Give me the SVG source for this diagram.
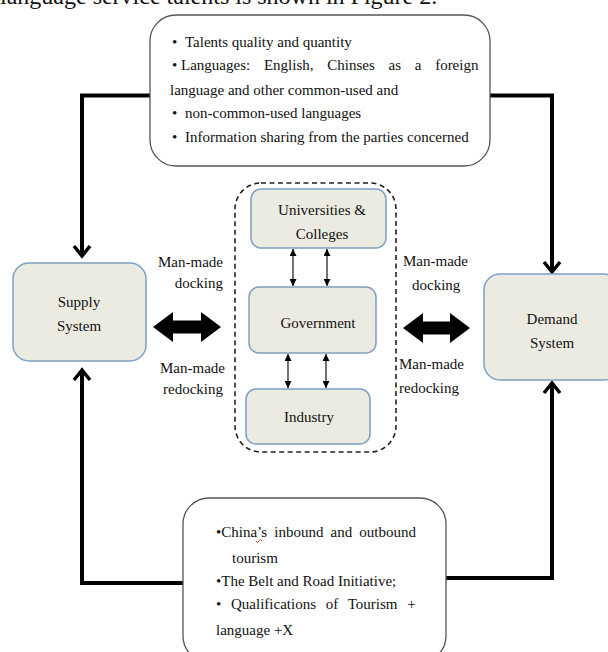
<svg xmlns="http://www.w3.org/2000/svg" width="608" height="652" viewBox="0 0 608 652">
<style>
text{font-family:"Liberation Serif","Times New Roman",serif;font-size:15px;fill:#111}
.c{text-anchor:middle}
.e{text-anchor:end}
.note{fill:#fff;stroke:#555;stroke-width:1.3}
.sys{fill:#ecebe1;stroke:#7f9fc4;stroke-width:1.5}
.loop{fill:none;stroke:#000;stroke-width:4}
.head{fill:none;stroke:#000;stroke-width:3.5;stroke-linejoin:miter}
.thin{stroke:#000;stroke-width:1.1;fill:none}
.big{fill:#000}
</style>
<defs>
<marker id="ah" viewBox="0 0 10 10" refX="10" refY="5" markerWidth="7" markerHeight="7" markerUnits="userSpaceOnUse" orient="auto-start-reverse">
<path d="M0,0 L10,5 L0,10 Z" fill="#000"/>
</marker>
</defs>
<text x="0" y="4" style="font-size:24px">language service talents is shown in Figure 2.</text>
<g id="connectors">
<path class="loop" d="M150,95.5 H82 V255"/>
<path class="head" d="M74,246 L82,256 L90,246"/>
<path class="loop" d="M490,95.5 H552 V271"/>
<path class="head" d="M544,262 L552,272 L560,262"/>
<path class="loop" d="M183,583 H82 V371"/>
<path class="head" d="M74,380 L82,370 L90,380"/>
<path class="loop" d="M446,578 H552 V384"/>
<path class="head" d="M544,393 L552,383 L560,393"/>
<path class="big" d="M153,327 L173,312 L173,320.5 L201,320.5 L201,312 L221,327 L201,342 L201,333.5 L173,333.5 L173,342 Z"/>
<path class="big" d="M403,328 L423,313 L423,321.5 L450,321.5 L450,313 L470,328 L450,343 L450,334.5 L423,334.5 L423,343 Z"/>
<line class="thin" x1="293" y1="249" x2="293" y2="286" marker-start="url(#ah)" marker-end="url(#ah)"/>
<line class="thin" x1="327" y1="249" x2="327" y2="286" marker-start="url(#ah)" marker-end="url(#ah)"/>
<line class="thin" x1="288" y1="354" x2="288" y2="388" marker-start="url(#ah)" marker-end="url(#ah)"/>
<line class="thin" x1="326" y1="354" x2="326" y2="388" marker-start="url(#ah)" marker-end="url(#ah)"/>
</g>
<g id="top-note">
<rect class="note" x="150" y="15" width="340" height="151" rx="26"/>
<text y="47"><tspan x="172">•</tspan><tspan x="185">Talents quality and quantity</tspan></text>
<text y="70"><tspan x="172">•</tspan><tspan x="181" word-spacing="10">Languages: English, Chinses as a foreign</tspan></text>
<text x="170" y="95">language and other common-used and</text>
<text y="118"><tspan x="172">•</tspan><tspan x="185">non-common-used languages</tspan></text>
<text y="142"><tspan x="172">•</tspan><tspan x="185">Information sharing from the parties concerned</tspan></text>
</g>
<g id="supply">
<rect class="sys" x="13" y="263" width="133" height="98" rx="16"/>
<text class="c" x="79" y="307">Supply</text>
<text class="c" x="79" y="331">System</text>
</g>
<g id="demand">
<rect class="sys" x="484" y="274" width="136" height="106" rx="16"/>
<text class="c" x="552" y="324">Demand</text>
<text class="c" x="552" y="348">System</text>
</g>
<g id="cluster">
<rect x="235" y="183" width="161" height="269" rx="26" fill="none" stroke="#222" stroke-width="1.6" stroke-dasharray="5,3.5"/>
</g>
<g id="universities">
<rect class="sys" x="251" y="189" width="135" height="59" rx="10"/>
<text class="c" x="322" y="215">Universities &amp;</text>
<text class="c" x="322" y="239">Colleges</text>
</g>
<g id="government">
<rect class="sys" x="249" y="287" width="127" height="66" rx="10"/>
<text class="c" x="318" y="328">Government</text>
</g>
<g id="industry">
<rect class="sys" x="246" y="389" width="124" height="55" rx="10"/>
<text class="c" x="309" y="422">Industry</text>
</g>
<g id="labels">
<text class="e" x="223" y="267">Man-made</text>
<text class="e" x="223" y="288">docking</text>
<text class="e" x="225" y="373">Man-made</text>
<text class="e" x="223" y="394">redocking</text>
<text x="403" y="266">Man-made</text>
<text x="412" y="290">docking</text>
<text x="399" y="369">Man-made</text>
<text x="399" y="393">redocking</text>
</g>
<g id="bottom-note">
<rect class="note" x="183" y="498" width="263" height="164" rx="26"/>
<text x="216" y="537" word-spacing="3.4">•China’s inbound and outbound</text>
<path d="M256,541 q1.5,3 3,0 q1.5,-3 3,0" fill="none" stroke="#e03030" stroke-width="0.9"/>
<text x="232" y="563">tourism</text>
<text x="216" y="586">•The Belt and Road Initiative;</text>
<text x="216" y="609" word-spacing="6">• Qualifications of Tourism +</text>
<text x="216" y="635">language +X</text>
</g>
</svg>
